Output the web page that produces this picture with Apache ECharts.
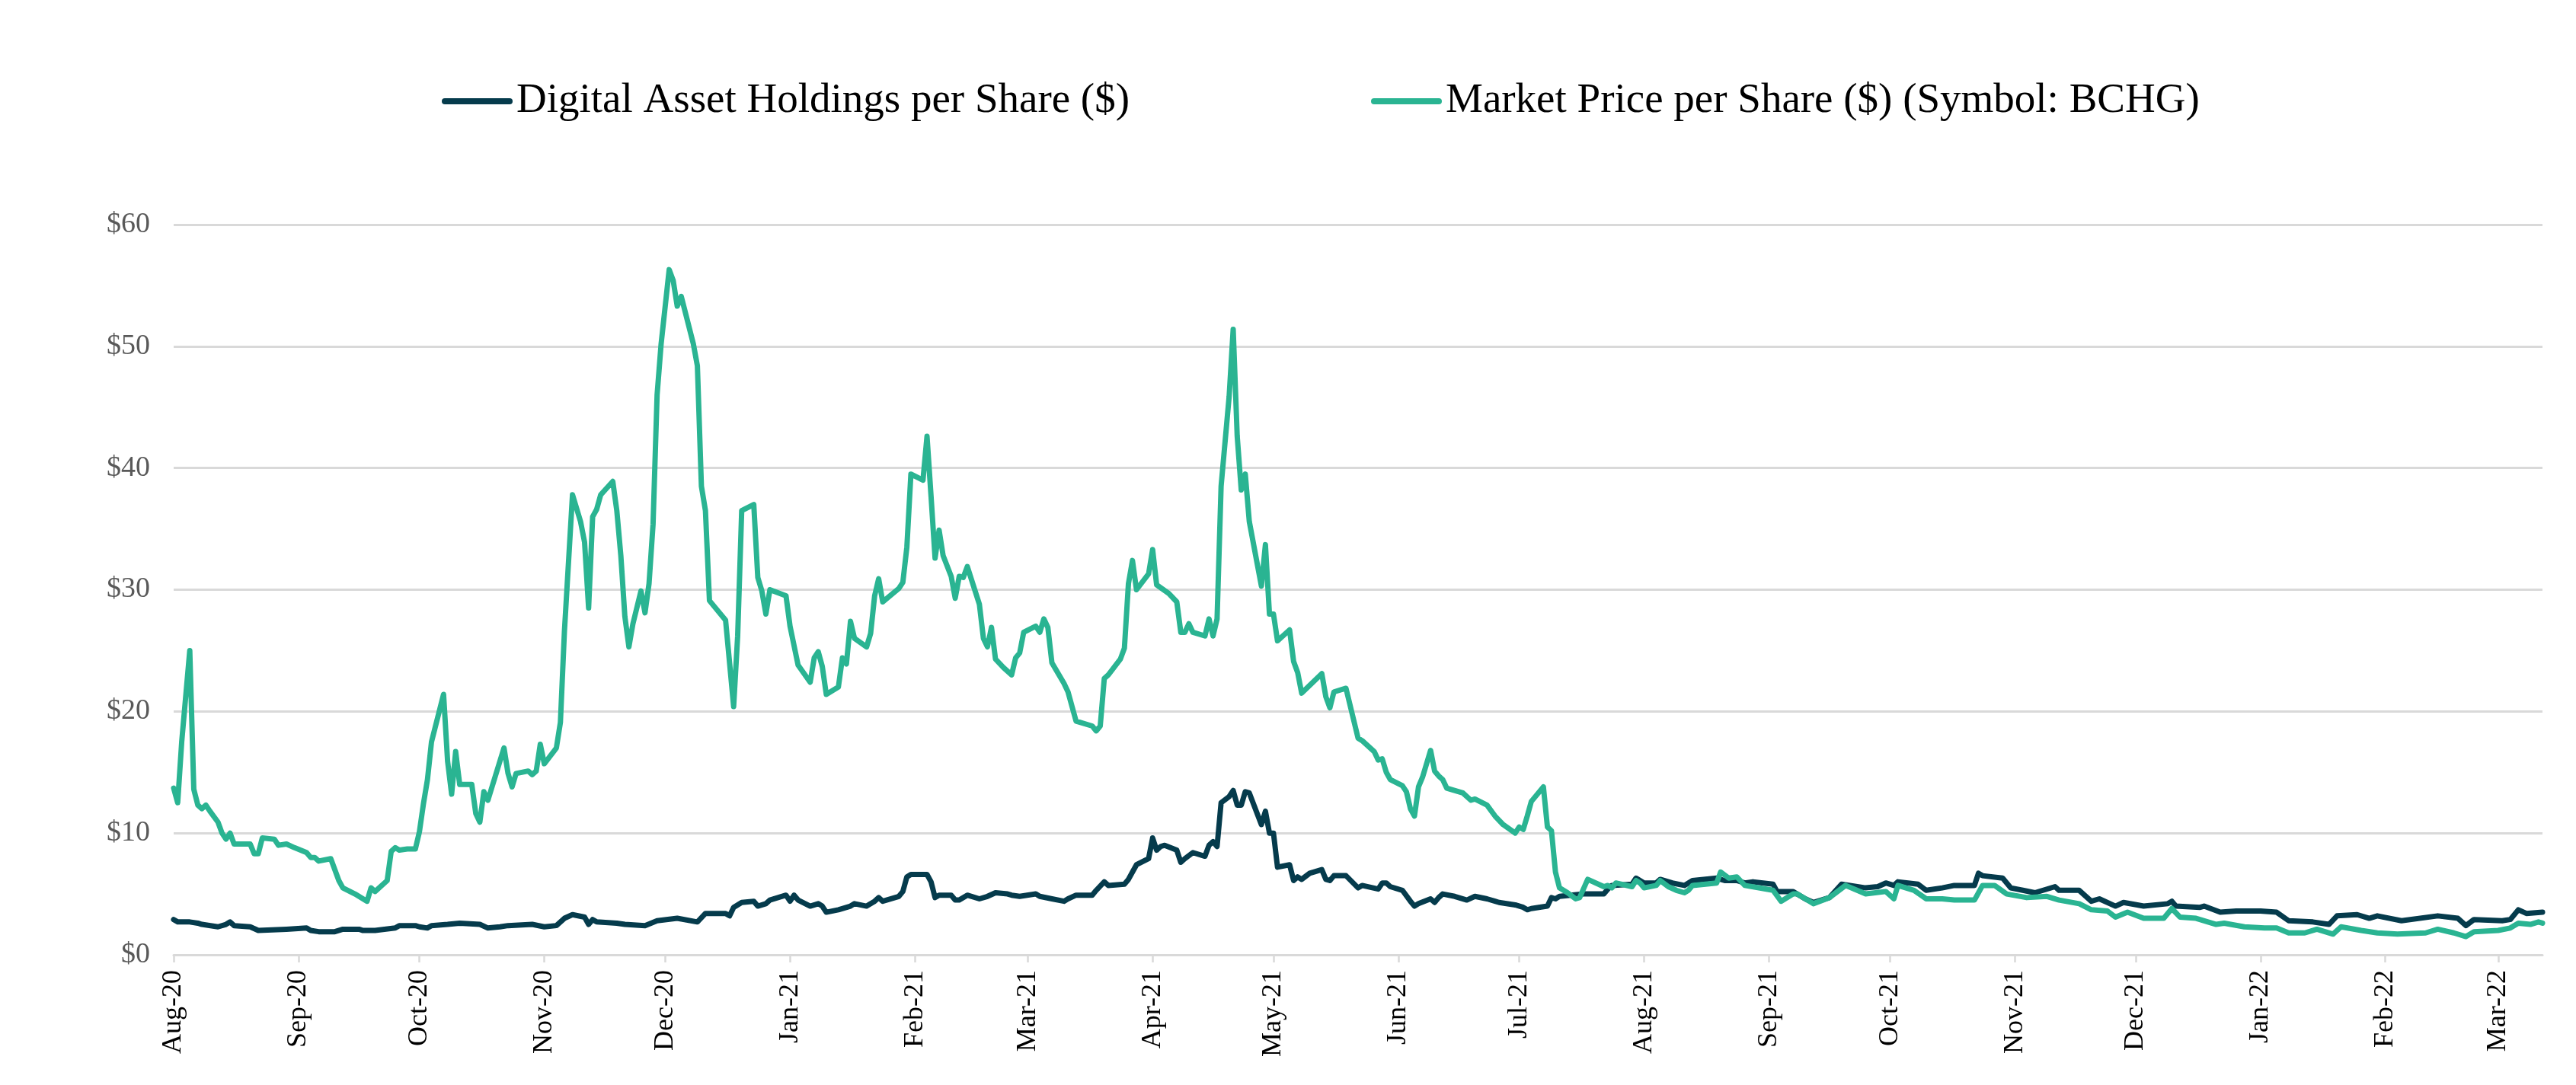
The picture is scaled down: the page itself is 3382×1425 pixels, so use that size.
<!DOCTYPE html>
<html>
<head>
<meta charset="utf-8">
<style>
html,body{margin:0;padding:0;background:#fff;}
#chart{width:3382px;height:1425px;}
</style>
<script src="https://cdn.jsdelivr.net/npm/echarts@6.0.0/dist/echarts.min.js"></script>
</head>
<body>
<div id="chart"></div>
<script>
const seriesNames = ['Digital Asset Holdings per Share ($)', 'Market Price per Share ($) (Symbol: BCHG)'];

const xTickDates = ['2020-08-01','2020-09-01','2020-10-01','2020-11-01','2020-12-01','2021-01-01','2021-02-01','2021-03-01','2021-04-01','2021-05-01','2021-06-01','2021-07-01','2021-08-01','2021-09-01','2021-10-01','2021-11-01','2021-12-01','2022-01-01','2022-02-01','2022-03-01'];
const xTickLabels = ['Aug-20','Sep-20','Oct-20','Nov-20','Dec-20','Jan-21','Feb-21','Mar-21','Apr-21','May-21','Jun-21','Jul-21','Aug-21','Sep-21','Oct-21','Nov-21','Dec-21','Jan-22','Feb-22','Mar-22'];
const xMinDate = '2020-08-01';
const xMaxDate = '2022-03-12';
const yTickValues = [0,10,20,30,40,50,60];

const navDates = ['2020-08-01','2020-08-02','2020-08-05','2020-08-07','2020-08-08','2020-08-12','2020-08-14','2020-08-15','2020-08-16','2020-08-20','2020-08-22','2020-08-29','2020-09-03','2020-09-04','2020-09-06','2020-09-10','2020-09-12','2020-09-16','2020-09-17','2020-09-20','2020-09-25','2020-09-26','2020-09-30','2020-10-01','2020-10-03','2020-10-04','2020-10-08','2020-10-11','2020-10-16','2020-10-18','2020-10-21','2020-10-23','2020-10-29','2020-11-01','2020-11-04','2020-11-06','2020-11-08','2020-11-11','2020-11-12','2020-11-13','2020-11-14','2020-11-19','2020-11-21','2020-11-26','2020-11-29','2020-12-04','2020-12-09','2020-12-11','2020-12-16','2020-12-17','2020-12-18','2020-12-20','2020-12-23','2020-12-24','2020-12-26','2020-12-27','2020-12-31','2021-01-01','2021-01-02','2021-01-03','2021-01-06','2021-01-08','2021-01-09','2021-01-10','2021-01-13','2021-01-16','2021-01-17','2021-01-20','2021-01-22','2021-01-23','2021-01-24','2021-01-28','2021-01-29','2021-01-30','2021-01-31','2021-02-04','2021-02-05','2021-02-06','2021-02-07','2021-02-10','2021-02-11','2021-02-12','2021-02-14','2021-02-17','2021-02-19','2021-02-21','2021-02-24','2021-02-25','2021-02-27','2021-03-03','2021-03-04','2021-03-07','2021-03-10','2021-03-11','2021-03-13','2021-03-17','2021-03-18','2021-03-20','2021-03-21','2021-03-25','2021-03-26','2021-03-27','2021-03-28','2021-03-31','2021-04-01','2021-04-02','2021-04-03','2021-04-04','2021-04-07','2021-04-08','2021-04-09','2021-04-11','2021-04-14','2021-04-15','2021-04-16','2021-04-17','2021-04-18','2021-04-20','2021-04-21','2021-04-22','2021-04-23','2021-04-24','2021-04-25','2021-04-28','2021-04-29','2021-04-30','2021-05-01','2021-05-02','2021-05-05','2021-05-06','2021-05-07','2021-05-08','2021-05-10','2021-05-13','2021-05-14','2021-05-15','2021-05-16','2021-05-19','2021-05-22','2021-05-23','2021-05-27','2021-05-28','2021-05-29','2021-05-30','2021-06-02','2021-06-04','2021-06-05','2021-06-06','2021-06-09','2021-06-10','2021-06-11','2021-06-12','2021-06-15','2021-06-18','2021-06-20','2021-06-23','2021-06-25','2021-06-26','2021-06-30','2021-07-02','2021-07-03','2021-07-04','2021-07-08','2021-07-09','2021-07-10','2021-07-11','2021-07-17','2021-07-22','2021-07-23','2021-07-24','2021-07-29','2021-07-30','2021-08-01','2021-08-04','2021-08-05','2021-08-08','2021-08-11','2021-08-13','2021-08-19','2021-08-21','2021-08-24','2021-08-26','2021-08-28','2021-09-02','2021-09-03','2021-09-05','2021-09-07','2021-09-10','2021-09-12','2021-09-16','2021-09-19','2021-09-25','2021-09-28','2021-09-30','2021-10-02','2021-10-03','2021-10-08','2021-10-10','2021-10-14','2021-10-17','2021-10-22','2021-10-23','2021-10-24','2021-10-29','2021-10-31','2021-11-03','2021-11-06','2021-11-11','2021-11-12','2021-11-17','2021-11-20','2021-11-22','2021-11-26','2021-11-28','2021-12-03','2021-12-09','2021-12-10','2021-12-11','2021-12-17','2021-12-18','2021-12-22','2021-12-26','2022-01-01','2022-01-05','2022-01-08','2022-01-14','2022-01-18','2022-01-20','2022-01-25','2022-01-28','2022-01-30','2022-02-05','2022-02-14','2022-02-19','2022-02-21','2022-02-23','2022-03-02','2022-03-04','2022-03-06','2022-03-08','2022-03-12'];
const navValues = [2.9,2.7,2.7,2.6,2.5,2.3,2.5,2.7,2.4,2.3,2.0,2.1,2.2,2.0,1.9,1.9,2.1,2.1,2.0,2.0,2.2,2.4,2.4,2.3,2.2,2.4,2.5,2.6,2.5,2.2,2.3,2.4,2.5,2.3,2.4,3.0,3.3,3.1,2.5,2.9,2.7,2.6,2.5,2.4,2.8,3.0,2.7,3.4,3.4,3.2,3.9,4.3,4.4,4.0,4.2,4.5,4.9,4.4,4.9,4.5,4.0,4.2,4.0,3.5,3.7,4.0,4.2,4.0,4.4,4.7,4.4,4.8,5.2,6.4,6.6,6.6,6.0,4.7,4.9,4.9,4.5,4.5,4.9,4.6,4.8,5.1,5.0,4.9,4.8,5.0,4.8,4.6,4.4,4.6,4.9,4.9,5.3,6.0,5.7,5.8,6.2,6.8,7.4,7.9,9.6,8.6,8.9,9.0,8.6,7.6,7.9,8.4,8.1,9.0,9.3,8.9,12.5,13.0,13.5,12.3,12.3,13.4,13.3,10.7,11.8,10.0,10.0,7.2,7.4,6.1,6.4,6.2,6.7,7.0,6.2,6.1,6.5,6.5,5.5,5.7,5.4,5.9,5.9,5.6,5.3,4.4,4.0,4.2,4.6,4.3,4.7,5.0,4.8,4.5,4.8,4.6,4.4,4.3,4.1,3.9,3.7,3.8,4.0,4.7,4.6,4.8,5.0,5.0,5.4,5.7,5.8,6.3,5.9,5.9,6.2,5.9,5.7,6.1,6.3,6.1,6.1,5.9,6.0,5.8,5.2,5.2,5.2,4.6,4.3,4.7,5.8,5.5,5.6,5.9,5.7,6.0,5.8,5.3,5.5,5.7,5.7,6.7,6.5,6.3,5.5,5.3,5.1,5.6,5.3,5.3,4.4,4.6,4.0,4.3,4.0,4.2,4.4,4.0,3.9,4.0,3.5,3.6,3.6,3.5,2.8,2.7,2.5,3.2,3.3,3.0,3.2,2.8,3.2,3.0,2.4,2.9,2.8,2.9,3.7,3.4,3.5];

const priceDates = ['2020-08-01','2020-08-02','2020-08-03','2020-08-05','2020-08-06','2020-08-07','2020-08-08','2020-08-09','2020-08-10','2020-08-12','2020-08-13','2020-08-14','2020-08-15','2020-08-16','2020-08-20','2020-08-21','2020-08-22','2020-08-23','2020-08-26','2020-08-27','2020-08-29','2020-08-31','2020-09-03','2020-09-04','2020-09-05','2020-09-06','2020-09-09','2020-09-11','2020-09-12','2020-09-15','2020-09-18','2020-09-19','2020-09-20','2020-09-23','2020-09-24','2020-09-25','2020-09-26','2020-09-28','2020-09-30','2020-10-01','2020-10-02','2020-10-03','2020-10-04','2020-10-07','2020-10-08','2020-10-09','2020-10-10','2020-10-11','2020-10-14','2020-10-15','2020-10-16','2020-10-17','2020-10-18','2020-10-22','2020-10-23','2020-10-24','2020-10-25','2020-10-28','2020-10-29','2020-10-30','2020-10-31','2020-11-01','2020-11-04','2020-11-05','2020-11-06','2020-11-08','2020-11-10','2020-11-11','2020-11-12','2020-11-13','2020-11-14','2020-11-15','2020-11-18','2020-11-19','2020-11-20','2020-11-21','2020-11-22','2020-11-23','2020-11-25','2020-11-26','2020-11-27','2020-11-28','2020-11-29','2020-11-30','2020-12-02','2020-12-03','2020-12-04','2020-12-05','2020-12-08','2020-12-09','2020-12-10','2020-12-11','2020-12-12','2020-12-16','2020-12-18','2020-12-19','2020-12-20','2020-12-23','2020-12-24','2020-12-25','2020-12-26','2020-12-27','2020-12-31','2021-01-01','2021-01-03','2021-01-06','2021-01-07','2021-01-08','2021-01-09','2021-01-10','2021-01-13','2021-01-14','2021-01-15','2021-01-16','2021-01-17','2021-01-20','2021-01-21','2021-01-22','2021-01-23','2021-01-24','2021-01-28','2021-01-29','2021-01-30','2021-01-31','2021-02-03','2021-02-04','2021-02-05','2021-02-06','2021-02-07','2021-02-08','2021-02-10','2021-02-11','2021-02-12','2021-02-13','2021-02-14','2021-02-17','2021-02-18','2021-02-19','2021-02-20','2021-02-21','2021-02-23','2021-02-25','2021-02-26','2021-02-27','2021-02-28','2021-03-03','2021-03-04','2021-03-05','2021-03-06','2021-03-07','2021-03-10','2021-03-11','2021-03-13','2021-03-17','2021-03-18','2021-03-19','2021-03-20','2021-03-21','2021-03-24','2021-03-25','2021-03-26','2021-03-27','2021-03-28','2021-03-31','2021-04-01','2021-04-02','2021-04-05','2021-04-07','2021-04-08','2021-04-09','2021-04-10','2021-04-11','2021-04-14','2021-04-15','2021-04-16','2021-04-17','2021-04-18','2021-04-20','2021-04-21','2021-04-22','2021-04-23','2021-04-24','2021-04-25','2021-04-28','2021-04-29','2021-04-30','2021-05-01','2021-05-02','2021-05-05','2021-05-06','2021-05-07','2021-05-08','2021-05-13','2021-05-14','2021-05-15','2021-05-16','2021-05-19','2021-05-22','2021-05-23','2021-05-26','2021-05-27','2021-05-28','2021-05-29','2021-05-30','2021-06-02','2021-06-03','2021-06-04','2021-06-05','2021-06-06','2021-06-07','2021-06-09','2021-06-10','2021-06-11','2021-06-12','2021-06-13','2021-06-17','2021-06-19','2021-06-20','2021-06-23','2021-06-25','2021-06-27','2021-06-30','2021-07-01','2021-07-02','2021-07-03','2021-07-04','2021-07-07','2021-07-08','2021-07-09','2021-07-10','2021-07-11','2021-07-13','2021-07-15','2021-07-16','2021-07-18','2021-07-22','2021-07-23','2021-07-24','2021-07-25','2021-07-29','2021-07-30','2021-07-31','2021-08-01','2021-08-04','2021-08-05','2021-08-07','2021-08-09','2021-08-11','2021-08-12','2021-08-13','2021-08-19','2021-08-20','2021-08-22','2021-08-24','2021-08-26','2021-09-02','2021-09-04','2021-09-07','2021-09-08','2021-09-12','2021-09-16','2021-09-20','2021-09-25','2021-09-30','2021-10-02','2021-10-03','2021-10-07','2021-10-10','2021-10-14','2021-10-17','2021-10-22','2021-10-24','2021-10-27','2021-10-30','2021-11-04','2021-11-09','2021-11-12','2021-11-17','2021-11-20','2021-11-24','2021-11-26','2021-11-29','2021-12-03','2021-12-08','2021-12-10','2021-12-12','2021-12-16','2021-12-21','2021-12-23','2021-12-28','2022-01-02','2022-01-05','2022-01-08','2022-01-12','2022-01-15','2022-01-19','2022-01-21','2022-01-26','2022-01-30','2022-02-04','2022-02-11','2022-02-14','2022-02-18','2022-02-21','2022-02-23','2022-03-01','2022-03-04','2022-03-06','2022-03-09','2022-03-11','2022-03-12'];
const priceValues = [13.7,12.5,17.5,25.0,13.6,12.3,12.0,12.3,11.8,10.9,10.0,9.5,10.0,9.1,9.1,8.3,8.3,9.6,9.5,9.0,9.1,8.8,8.4,8.0,8.0,7.7,7.9,6.1,5.5,5.0,4.4,5.5,5.2,6.1,8.5,8.8,8.6,8.7,8.7,10.1,12.4,14.4,17.5,21.4,15.9,13.2,16.7,14.0,14.0,11.6,10.9,13.4,12.7,17.0,14.9,13.8,14.9,15.1,14.8,15.1,17.3,15.7,17.0,19.1,26.6,37.8,35.6,33.9,28.5,36.0,36.6,37.8,38.9,36.5,32.8,27.8,25.3,27.2,29.9,28.1,30.5,35.4,46.0,50.2,56.3,55.4,53.3,54.1,50.2,48.4,38.5,36.5,29.1,27.5,20.4,26.2,36.5,37.0,31.0,29.9,28.0,30.0,29.5,27.0,23.8,22.4,24.4,24.9,23.7,21.4,22.0,24.4,23.9,27.4,26.0,25.3,26.4,29.5,30.9,29.0,30.1,30.6,33.5,39.5,39.0,42.6,37.7,32.6,34.9,32.8,31.1,29.3,31.1,31.0,31.9,28.8,26.0,25.3,26.9,24.3,23.6,23.0,24.4,24.8,26.5,27.0,26.5,27.6,26.9,24.0,22.3,21.6,19.2,18.8,18.4,18.8,22.7,23.0,24.3,25.2,30.5,32.4,30.0,31.3,33.3,30.4,29.7,29.0,26.5,26.5,27.2,26.5,26.2,27.6,26.2,27.6,38.5,45.9,51.4,42.6,38.2,39.5,35.6,30.3,33.7,28.0,28.0,25.8,26.7,24.1,23.2,21.5,23.1,21.2,20.3,21.6,21.9,17.8,17.6,16.7,16.0,16.1,15.0,14.4,13.9,13.4,12.0,11.4,13.8,14.6,16.8,15.1,14.7,14.4,13.7,13.3,12.7,12.8,12.3,11.4,10.7,10.0,10.5,10.3,11.4,12.6,13.8,10.5,10.2,6.8,5.5,5.1,4.6,4.7,6.2,5.6,5.7,5.5,5.9,5.6,6.1,5.9,5.5,5.7,6.1,5.6,5.3,5.1,5.3,5.7,5.9,6.8,6.3,6.4,5.7,5.3,4.4,5.0,5.0,4.2,4.7,5.7,5.0,5.2,4.6,5.7,5.3,4.6,4.6,4.5,4.5,5.7,5.7,5.0,4.7,4.8,4.5,4.2,3.7,3.6,3.1,3.5,3.0,3.0,3.8,3.1,3.0,2.5,2.6,2.3,2.2,2.2,1.8,1.8,2.1,1.7,2.3,2.0,1.8,1.7,1.8,2.1,1.8,1.5,1.9,2.0,2.2,2.6,2.5,2.7,2.6];

const FONT = '"Liberation Serif", "Times New Roman", serif';
const COLORS = ['#053B4C', '#2AB492'];

function ts(d) {
  const p = d.split('-').map(Number);
  return Date.UTC(p[0], p[1] - 1, p[2]);
}
const tickTs = xTickDates.map(ts);

const chart = echarts.init(document.getElementById('chart'), null, {renderer: 'canvas'});
chart.setOption({
  animation: false,
  backgroundColor: '#ffffff',
  color: COLORS,
  legend: {
    data: seriesNames,
    left: 575,
    top: 100,
    itemGap: 317,
    itemWidth: 93,
    itemHeight: 8,
    icon: 'path://M4,0L89,0A4,4,0,0,1,89,8L4,8A4,4,0,0,1,4,0Z',
    textStyle: {fontFamily: FONT, fontSize: 55, color: '#000', lineHeight: 56}
  },
  grid: {left: 228, right: 44, top: 295, bottom: 171, containLabel: false},
  xAxis: {
    type: 'value',
    min: ts(xMinDate),
    max: ts(xMaxDate),
    axisLine: {show: true, lineStyle: {color: '#d9d9d9', width: 3}},
    axisTick: {show: true, customValues: tickTs, length: 10, lineStyle: {color: '#d9d9d9', width: 2.5}},
    axisLabel: {
      customValues: tickTs,
      rotate: 90,
      margin: 20,
      fontFamily: FONT,
      fontSize: 36,
      color: '#000',
      formatter: function (v) { const i = tickTs.indexOf(v); return i >= 0 ? xTickLabels[i] : ''; }
    },
    splitLine: {show: false}
  },
  yAxis: {
    type: 'value',
    min: yTickValues[0],
    max: yTickValues[yTickValues.length - 1],
    interval: 10,
    axisLine: {show: false},
    axisTick: {show: false},
    axisLabel: {formatter: function (v) { return '$' + v; }, fontFamily: FONT, fontSize: 38, color: '#595959', margin: 31},
    splitLine: {lineStyle: {color: '#d9d9d9', width: 3}}
  },
  series: [
    {
      name: seriesNames[0],
      type: 'line',
      showSymbol: false,
      symbol: 'none',
      data: navDates.map(function (d, i) { return [ts(d), navValues[i]]; }),
      lineStyle: {width: 7, color: COLORS[0], join: 'round', cap: 'round'},
      itemStyle: {color: COLORS[0]},
      z: 2
    },
    {
      name: seriesNames[1],
      type: 'line',
      showSymbol: false,
      symbol: 'none',
      data: priceDates.map(function (d, i) { return [ts(d), priceValues[i]]; }),
      lineStyle: {width: 7, color: COLORS[1], join: 'round', cap: 'round'},
      itemStyle: {color: COLORS[1]},
      z: 3
    }
  ]
});
</script>
</body>
</html>
